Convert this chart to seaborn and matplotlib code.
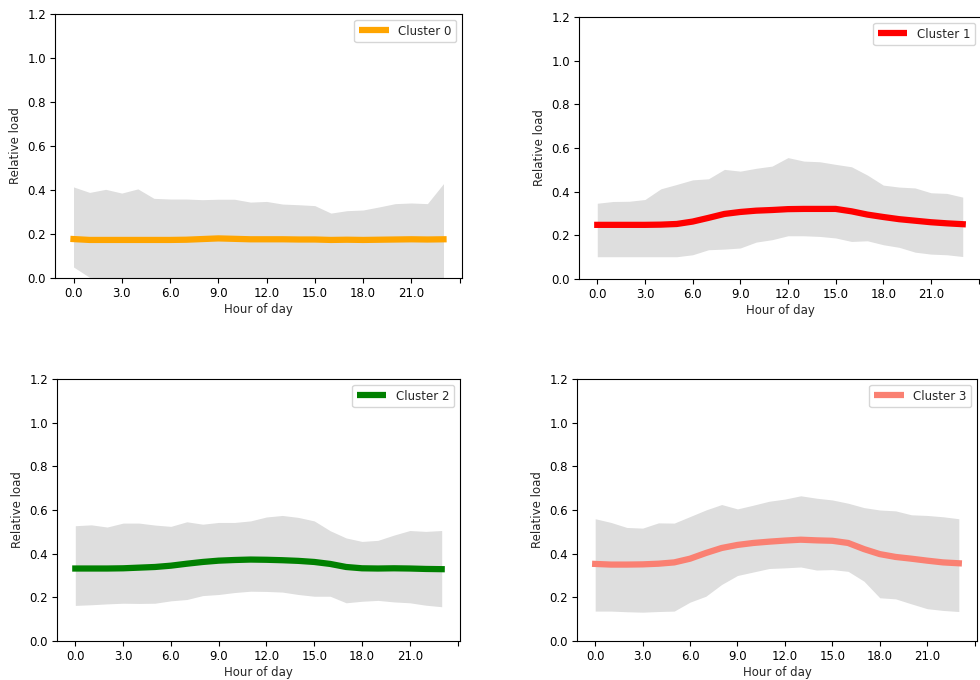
import numpy as np
import pandas as pd
import matplotlib
matplotlib.use("Agg")
import matplotlib.pyplot as plt
import seaborn as sns

hours = list(range(24))
clusters = ["Cluster 0", "Cluster 1", "Cluster 2", "Cluster 3"]
colors = ["orange", "red", "green", "salmon"]

mean0 = [0.177, 0.173, 0.173, 0.173, 0.173, 0.173, 0.173, 0.174, 0.177, 0.180, 0.178, 0.176,
         0.176, 0.176, 0.175, 0.175, 0.173, 0.174, 0.173, 0.174, 0.175, 0.176, 0.175, 0.176]
upper0 = [0.414, 0.389, 0.403, 0.386, 0.405, 0.362, 0.359, 0.359, 0.356, 0.358, 0.358, 0.345,
          0.348, 0.336, 0.333, 0.329, 0.295, 0.306, 0.309, 0.323, 0.338, 0.341, 0.338, 0.429]
lower0 = [0.050, 0.003, 0.0, 0.0, 0.0, 0.0, 0.0, 0.0, 0.0, 0.0, 0.0, 0.0,
          0.0, 0.0, 0.0, 0.0, 0.0, 0.0, 0.0, 0.0, 0.0, 0.0, 0.0, 0.0]

mean1 = [0.248, 0.248, 0.248, 0.248, 0.249, 0.252, 0.263, 0.280, 0.298, 0.307, 0.313, 0.316,
         0.320, 0.321, 0.321, 0.321, 0.310, 0.295, 0.284, 0.274, 0.267, 0.260, 0.255, 0.251]
upper1 = [0.347, 0.355, 0.356, 0.364, 0.413, 0.433, 0.454, 0.459, 0.502, 0.494, 0.507, 0.517,
          0.556, 0.540, 0.537, 0.525, 0.514, 0.476, 0.430, 0.421, 0.417, 0.395, 0.392, 0.375]
lower1 = [0.102, 0.102, 0.102, 0.102, 0.102, 0.102, 0.111, 0.134, 0.137, 0.142, 0.169, 0.180,
          0.198, 0.198, 0.195, 0.188, 0.172, 0.175, 0.157, 0.145, 0.123, 0.114, 0.111, 0.103]

mean2 = [0.332, 0.332, 0.332, 0.333, 0.336, 0.339, 0.345, 0.354, 0.362, 0.368, 0.371, 0.373,
         0.372, 0.370, 0.367, 0.362, 0.353, 0.339, 0.333, 0.332, 0.333, 0.332, 0.330, 0.329]
upper2 = [0.528, 0.532, 0.522, 0.540, 0.540, 0.531, 0.525, 0.546, 0.535, 0.543, 0.543, 0.550,
          0.568, 0.575, 0.566, 0.550, 0.505, 0.472, 0.456, 0.461, 0.485, 0.506, 0.502, 0.506]
lower2 = [0.163, 0.166, 0.170, 0.173, 0.172, 0.173, 0.184, 0.190, 0.208, 0.213, 0.222, 0.228,
          0.227, 0.224, 0.213, 0.205, 0.205, 0.175, 0.182, 0.186, 0.179, 0.175, 0.164, 0.157]

mean3 = [0.353, 0.350, 0.350, 0.351, 0.354, 0.360, 0.377, 0.403, 0.426, 0.440, 0.449, 0.455,
         0.460, 0.464, 0.461, 0.459, 0.449, 0.421, 0.398, 0.385, 0.377, 0.368, 0.360, 0.356]
upper3 = [0.560, 0.543, 0.520, 0.517, 0.541, 0.540, 0.570, 0.600, 0.625, 0.605, 0.622, 0.640,
          0.650, 0.665, 0.654, 0.646, 0.631, 0.611, 0.600, 0.596, 0.578, 0.575, 0.569, 0.560]
lower3 = [0.137, 0.137, 0.134, 0.132, 0.135, 0.137, 0.178, 0.205, 0.259, 0.300, 0.316, 0.332,
          0.335, 0.339, 0.325, 0.327, 0.319, 0.274, 0.198, 0.193, 0.170, 0.148, 0.140, 0.135]

means = [mean0, mean1, mean2, mean3]
uppers = [upper0, upper1, upper2, upper3]
lowers = [lower0, lower1, lower2, lower3]

xtick_vals = [0, 3, 6, 9, 12, 15, 18, 21, 24]
xtick_labels = ["0.0", "3.0", "6.0", "9.0", "12.0", "15.0", "18.0", "21.0", ""]
ytick_vals = [0.0, 0.2, 0.4, 0.6, 0.8, 1.0, 1.2]
ytick_labels = ["0.0", "0.2", "0.4", "0.6", "0.8", "1.0", "1.2"]

sns.set_theme(style="ticks")
plt.rcParams["font.family"] = ["DejaVu Sans"]
plt.rcParams["axes.edgecolor"] = "black"
plt.rcParams["axes.linewidth"] = 0.8
plt.rcParams["xtick.color"] = "black"
plt.rcParams["ytick.color"] = "black"
plt.rcParams["lines.solid_capstyle"] = "projecting"

W, H = 980, 680
fig = plt.figure(figsize=(9.8, 6.8), dpi=100)
boxes = [(55, 14, 462, 278), (579, 17, 981, 279), (57, 379, 460, 641), (577, 379, 977, 641)]

fs = 8.5
for i, (l, t, r, b) in enumerate(boxes):
    ax = fig.add_axes([l / W, (H - b) / H, (r - l) / W, (b - t) / H])
    df = pd.DataFrame({"hour": hours, "load": means[i]})
    ax.fill_between(hours, lowers[i], uppers[i], color="#dedede", linewidth=0)
    sns.lineplot(data=df, x="hour", y="load", ax=ax, color=colors[i], linewidth=4.5,
                 label=clusters[i])
    for ln in ax.get_lines():
        ln.set_solid_capstyle("projecting")
    ax.set_xlim(-1.15, 24.15)
    ax.set_ylim(0, 1.2)
    ax.set_xticks(xtick_vals)
    ax.set_xticklabels(xtick_labels, fontsize=fs)
    ax.set_yticks(ytick_vals)
    ax.set_yticklabels(ytick_labels, fontsize=fs)
    ax.tick_params(axis="both", length=3.5, width=0.8, pad=3)
    ax.set_xlabel("Hour of day", fontsize=fs, labelpad=2)
    ax.set_ylabel("Relative load", fontsize=fs, labelpad=4)
    for s in ax.spines.values():
        s.set_visible(True)
        s.set_color("black")
        s.set_linewidth(0.8)
    leg = ax.legend(loc="upper right", fontsize=fs, handlelength=2.5, frameon=True,
                    fancybox=True, framealpha=0.8, edgecolor="#cccccc")
    for lh in leg.get_lines():
        lh.set_solid_capstyle("butt")

fig.savefig("out.png", dpi=100)
